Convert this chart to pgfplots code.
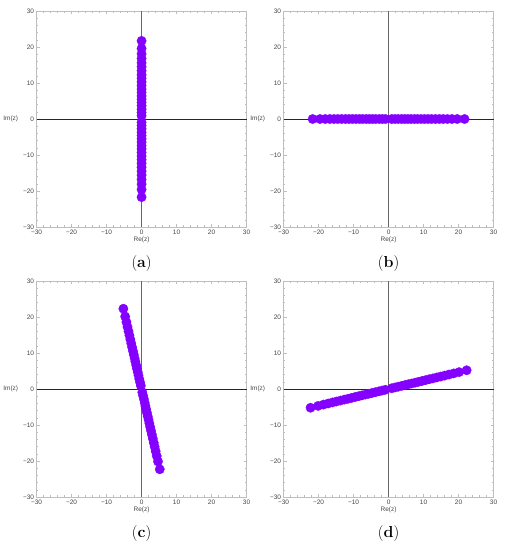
\documentclass[border=0pt]{standalone}
\usepackage{pgfplots}
\pgfplotsset{compat=1.18}
\usepackage{fontspec}
\newfontfamily\tickfont{Liberation Sans}
\definecolor{pts}{RGB}{132,0,255}
\definecolor{frm}{RGB}{190,190,190}
\definecolor{lbl}{RGB}{70,70,70}
\pgfplotsset{
  mma/.style={
    scale only axis, width=210bp, height=216bp,
    xmin=-30, xmax=30, ymin=-30, ymax=30,
    xtick={-30,-20,...,30}, ytick={-30,-20,...,30},
    xticklabels={−30,−20,−10,0,10,20,30},
    yticklabels={−30,−20,−10,0,10,20,30},
    minor tick num=4,
    tick align=inside, xtick pos=both, ytick pos=both,
    xticklabel pos=left, yticklabel pos=left,
    major tick length=3bp, minor tick length=1.8bp,
    axis line style={frm, line width=0.6bp},
    every tick/.style={frm, line width=0.5bp},
    tick label style={font=\tickfont\fontsize{6.5}{7.5}\selectfont, text=lbl},
    xticklabel style={yshift=1bp},
    yticklabel style={xshift=1bp},
    xlabel={Re(z)},
    xlabel style={font=\tickfont\fontsize{6.5}{7.5}\selectfont, text=lbl, yshift=4bp},
    clip=false,
  },
  dots/.style={only marks, mark=*, mark size=4.7bp,
    mark options={fill=pts, draw=pts, line width=0.3bp}},
}
\newcommand{\imlabel}{\node[anchor=east, font=\tickfont\fontsize{6.5}{7.5}\selectfont, text=lbl] at (rel axis cs:0,0.5) [xshift=-15bp] {Im(z)};}
\newcommand{\axlines}{%
  \draw[black!85, line width=0.6bp] (axis cs:-30,0) -- (axis cs:30,0);
  \draw[black!60, line width=0.9bp] (axis cs:0,-30) -- (axis cs:0,30);}
\begin{document}
\begin{tikzpicture}
\path (0,0) rectangle (505bp,-550bp);
% (a)
\begin{axis}[mma, at={(36bp,-227bp)}, anchor=south west]
\addplot[dots] coordinates {
(0,0.9)(0,1.8)(0,2.7)(0,3.7)(0,4.6)(0,5.5)(0,6.4)(0,7.4)(0,8.3)(0,9.3)
(0,10.3)(0,11.3)(0,12.3)(0,13.4)(0,14.5)(0,15.6)(0,16.8)(0,18.1)(0,19.6)(0,21.7)
(0,-0.9)(0,-1.8)(0,-2.7)(0,-3.7)(0,-4.6)(0,-5.5)(0,-6.4)(0,-7.4)(0,-8.3)(0,-9.3)
(0,-10.3)(0,-11.3)(0,-12.3)(0,-13.4)(0,-14.5)(0,-15.6)(0,-16.8)(0,-18.1)(0,-19.6)(0,-21.7)};
\axlines
\imlabel
\end{axis}
% (b)
\begin{axis}[mma, at={(283bp,-227bp)}, anchor=south west]
\addplot[dots] coordinates {
(0.9,0)(1.8,0)(2.7,0)(3.7,0)(4.6,0)(5.5,0)(6.4,0)(7.4,0)(8.3,0)(9.3,0)
(10.3,0)(11.3,0)(12.3,0)(13.4,0)(14.5,0)(15.6,0)(16.8,0)(18.1,0)(19.6,0)(21.7,0)
(-0.9,0)(-1.8,0)(-2.7,0)(-3.7,0)(-4.6,0)(-5.5,0)(-6.4,0)(-7.4,0)(-8.3,0)(-9.3,0)
(-10.3,0)(-11.3,0)(-12.3,0)(-13.4,0)(-14.5,0)(-15.6,0)(-16.8,0)(-18.1,0)(-19.6,0)(-21.7,0)};
\axlines
\imlabel
\end{axis}
% (c)
\begin{axis}[mma, at={(36bp,-497bp)}, anchor=south west]
\addplot[dots] coordinates {
(-0.21,0.92)(-0.43,1.85)(-0.65,2.77)(-0.89,3.80)(-1.10,4.73)(-1.32,5.65)(-1.53,6.58)(-1.77,7.60)(-1.99,8.53)(-2.23,9.56)
(-2.47,10.58)(-2.71,11.61)(-2.94,12.64)(-3.21,13.77)(-3.47,14.90)(-3.73,16.03)(-4.02,17.26)(-4.33,18.60)(-4.69,20.14)(-5.20,22.30)
(0.21,-0.92)(0.43,-1.85)(0.65,-2.77)(0.89,-3.80)(1.10,-4.73)(1.32,-5.65)(1.53,-6.58)(1.77,-7.60)(1.99,-8.53)(2.23,-9.56)
(2.47,-10.58)(2.71,-11.61)(2.94,-12.64)(3.21,-13.77)(3.47,-14.90)(3.73,-16.03)(4.02,-17.26)(4.33,-18.60)(4.69,-20.14)(5.20,-22.30)};
\axlines
\imlabel
\end{axis}
% (d)
\begin{axis}[mma, at={(283bp,-497bp)}, anchor=south west]
\addplot[dots] coordinates {
(0.92,0.21)(1.85,0.43)(2.77,0.65)(3.80,0.89)(4.73,1.10)(5.65,1.32)(6.58,1.53)(7.60,1.77)(8.53,1.99)(9.56,2.23)
(10.58,2.47)(11.61,2.71)(12.64,2.94)(13.77,3.21)(14.90,3.47)(16.03,3.73)(17.26,4.02)(18.60,4.33)(20.14,4.69)(22.30,5.20)
(-0.92,-0.21)(-1.85,-0.43)(-2.77,-0.65)(-3.80,-0.89)(-4.73,-1.10)(-5.65,-1.32)(-6.58,-1.53)(-7.60,-1.77)(-8.53,-1.99)(-9.56,-2.23)
(-10.58,-2.47)(-11.61,-2.71)(-12.64,-2.94)(-13.77,-3.21)(-14.90,-3.47)(-16.03,-3.73)(-17.26,-4.02)(-18.60,-4.33)(-20.14,-4.69)(-22.30,-5.20)};
\axlines
\imlabel
\end{axis}
\node[font=\fontsize{16}{18}\selectfont] at (141bp,-264bp) {(\textbf{a})};
\node[font=\fontsize{16}{18}\selectfont] at (388bp,-264bp) {(\textbf{b})};
\node[font=\fontsize{16}{18}\selectfont] at (141bp,-534bp) {(\textbf{c})};
\node[font=\fontsize{16}{18}\selectfont] at (388bp,-534bp) {(\textbf{d})};
\end{tikzpicture}
\end{document}
